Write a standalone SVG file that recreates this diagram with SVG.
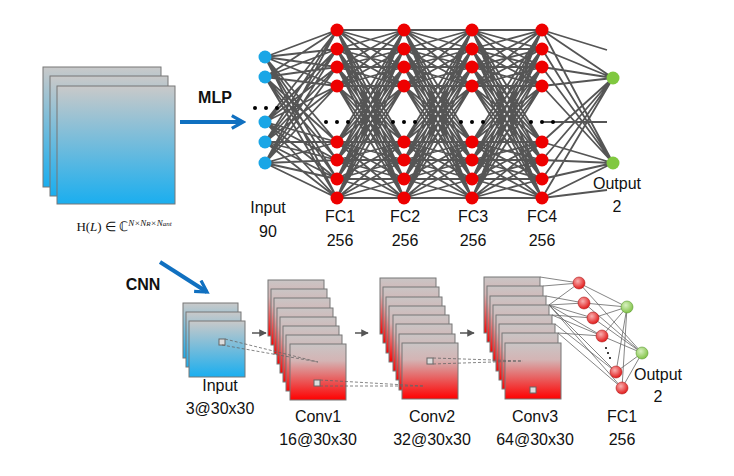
<svg xmlns="http://www.w3.org/2000/svg" width="734" height="476" viewBox="0 0 734 476">
<defs>
<linearGradient id="gb" x1="0" y1="0" x2="0" y2="1"><stop offset="0" stop-color="#c9c9c9"/><stop offset="1" stop-color="#1aaeef"/></linearGradient>
<linearGradient id="gr" x1="0" y1="0" x2="0" y2="1"><stop offset="0" stop-color="#c9c5c5"/><stop offset="0.3" stop-color="#d4b4b4"/><stop offset="1" stop-color="#ff0000"/></linearGradient>
<radialGradient id="rr" cx="0.4" cy="0.35" r="0.7"><stop offset="0" stop-color="#f8b0b0"/><stop offset="1" stop-color="#e01010"/></radialGradient>
<radialGradient id="rg" cx="0.4" cy="0.35" r="0.7"><stop offset="0" stop-color="#d8f0c0"/><stop offset="1" stop-color="#7cc040"/></radialGradient>
<marker id="ab" viewBox="0 0 10 10" refX="8" refY="5" markerWidth="4" markerHeight="4" orient="auto"><path d="M1,1 L8,5 L1,9" fill="none" stroke="#1070c0" stroke-width="2"/></marker>
<marker id="ag" viewBox="0 0 10 10" refX="9" refY="5" markerWidth="5" markerHeight="5" orient="auto"><path d="M0,0 L10,5 L0,10 z" fill="#555"/></marker>
<path id="h1" vector-effect="non-scaling-stroke" d="M0,30L1,30M0,30L1,49M0,30L1,67M0,30L1,86M0,30L1,142M0,30L1,160M0,30L1,179M0,30L1,198
M0,49L1,30M0,49L1,49M0,49L1,67M0,49L1,86M0,49L1,142M0,49L1,160M0,49L1,179M0,49L1,198
M0,67L1,30M0,67L1,49M0,67L1,67M0,67L1,86M0,67L1,142M0,67L1,160M0,67L1,179M0,67L1,198
M0,86L1,30M0,86L1,49M0,86L1,67M0,86L1,86M0,86L1,142M0,86L1,160M0,86L1,179M0,86L1,198
M0,142L1,30M0,142L1,49M0,142L1,67M0,142L1,86M0,142L1,142M0,142L1,160M0,142L1,179M0,142L1,198
M0,160L1,30M0,160L1,49M0,160L1,67M0,160L1,86M0,160L1,142M0,160L1,160M0,160L1,179M0,160L1,198
M0,179L1,30M0,179L1,49M0,179L1,67M0,179L1,86M0,179L1,142M0,179L1,160M0,179L1,179M0,179L1,198
M0,198L1,30M0,198L1,49M0,198L1,67M0,198L1,86M0,198L1,142M0,198L1,160M0,198L1,179M0,198L1,198"/>
</defs>
<style>
text{font-family:"Liberation Sans",Arial,sans-serif;font-size:16px;fill:#111;text-anchor:middle}
.b{font-weight:bold}
.sb{fill:url(#gb);stroke:#777;stroke-width:1}
.sr{fill:url(#gr);stroke:#777;stroke-width:1}
.t{stroke:#666;stroke-width:0.8}
.d{stroke:#666;stroke-width:0.8;stroke-dasharray:3,2;fill:none}
.nb{fill:#1aa6e6}.nr{fill:#ee0000}.ng{fill:#80c840}
.cr{fill:url(#rr);stroke:#b02020;stroke-width:0.6}
.cg{fill:url(#rg);stroke:#5a9a30;stroke-width:0.6}
.sq{fill:#ddd;stroke:#666;stroke-width:1}
</style>
<rect width="734" height="476" fill="#fff"/>
<g id="input-tensor">
<rect class="sb" x="43" y="67" width="118" height="120"/>
<rect class="sb" x="50" y="76" width="118" height="120"/>
<rect class="sb" x="57" y="86" width="118" height="118"/>
<text x="124" y="231" style="font-family:'Liberation Serif',serif;font-size:13px">H(<tspan font-style="italic">L</tspan>) ∈ ℂ<tspan dy="-5" font-size="9" font-style="italic">N×N</tspan><tspan font-size="7" font-style="italic">R</tspan><tspan font-size="9" font-style="italic">×N</tspan><tspan font-size="7" font-style="italic">ant</tspan></text>
</g>
<g id="connectors">
<line x1="180" y1="122" x2="243" y2="122" stroke="#1070c0" stroke-width="4" marker-end="url(#ab)"/>
<line x1="160" y1="262" x2="207" y2="292" stroke="#1070c0" stroke-width="4" marker-end="url(#ab)"/>
<line x1="252" y1="333" x2="266" y2="333" stroke="#555" stroke-width="1.5" marker-end="url(#ag)"/>
<line x1="355" y1="333" x2="368" y2="333" stroke="#555" stroke-width="1.5" marker-end="url(#ag)"/>
<line x1="460" y1="333" x2="474" y2="333" stroke="#555" stroke-width="1.5" marker-end="url(#ag)"/>
</g>
<g id="mlp-lines" stroke="#555" stroke-width="1.8" fill="none">
<path d="M265,57L337,30M265,57L337,49M265,57L337,67M265,57L337,86M265,57L337,142M265,57L337,160M265,57L337,179M265,57L337,198
M265,77L337,30M265,77L337,49M265,77L337,67M265,77L337,86M265,77L337,142M265,77L337,160M265,77L337,179M265,77L337,198
M265,122L337,30M265,122L337,49M265,122L337,67M265,122L337,86M265,122L337,142M265,122L337,160M265,122L337,179M265,122L337,198
M265,142L337,30M265,142L337,49M265,142L337,67M265,142L337,86M265,142L337,142M265,142L337,160M265,142L337,179M265,142L337,198
M265,163L337,30M265,163L337,49M265,163L337,67M265,163L337,86M265,163L337,142M265,163L337,160M265,163L337,179M265,163L337,198"/>
<use href="#h1" transform="translate(337,0) scale(67,1)"/>
<use href="#h1" transform="translate(404,0) scale(68,1)"/>
<use href="#h1" transform="translate(472,0) scale(70,1)"/>
<path d="M542,30L613,78M542,49L613,78M542,67L613,78M542,86L613,78M542,142L613,78M542,160L613,78M542,179L613,78M542,198L613,78
M542,30L613,163M542,49L613,163M542,67L613,163M542,86L613,163M542,142L613,163M542,160L613,163M542,179L613,163M542,198L613,163
M542,30L607,50M542,198L607,190M542,122L607,122"/>
</g>
<g id="mlp-input" class="nb">
<circle cx="265" cy="57" r="6.5"/><circle cx="265" cy="77" r="6.5"/><circle cx="265" cy="122" r="6.5"/><circle cx="265" cy="142" r="6.5"/><circle cx="265" cy="163" r="6.5"/>
<g fill="#000"><circle cx="255" cy="108" r="2"/><circle cx="266" cy="108" r="2"/><circle cx="277" cy="108" r="2"/></g>
<text x="268" y="213">Input</text><text x="268" y="237">90</text>
</g>
<g id="fc-layers" class="nr">
<g id="fcA">
<circle cx="337" cy="30" r="6.5"/><circle cx="337" cy="49" r="6.5"/><circle cx="337" cy="67" r="6.5"/><circle cx="337" cy="86" r="6.5"/>
<circle cx="337" cy="142" r="6.5"/><circle cx="337" cy="160" r="6.5"/><circle cx="337" cy="179" r="6.5"/><circle cx="337" cy="198" r="6.5"/>
<g fill="#000"><circle cx="326" cy="122" r="2"/><circle cx="337" cy="122" r="2"/><circle cx="348" cy="122" r="2"/></g>
</g>
<use href="#fcA" x="67"/><use href="#fcA" x="135"/><use href="#fcA" x="205"/>
</g>
<g id="mlp-labels">
<text x="340" y="222">FC1</text><text x="340" y="246">256</text>
<text x="405" y="222">FC2</text><text x="405" y="246">256</text>
<text x="473" y="222">FC3</text><text x="473" y="246">256</text>
<text x="542" y="222">FC4</text><text x="542" y="246">256</text>
</g>
<g id="mlp-output">
<circle class="ng" cx="613" cy="78" r="6.5"/><circle class="ng" cx="613" cy="163" r="6.5"/>
<text x="617" y="189">Output</text><text x="617" y="212">2</text>
</g>
<text class="b" x="215" y="103">MLP</text>
<text class="b" x="143" y="290">CNN</text>
<g id="cnn-input">
<rect class="sb" x="183" y="303" width="55" height="55"/>
<rect class="sb" x="186" y="312" width="55" height="55"/>
<rect class="sb" x="189" y="321" width="56" height="56"/>
<rect class="sq" x="219" y="339" width="6" height="6"/>
<text x="220" y="391">Input</text><text x="220" y="414">3@30x30</text>
</g>
<g id="conv1">
<rect class="sr" x="268" y="280" width="56" height="56"/><rect class="sr" x="271" y="289" width="56" height="56"/>
<rect class="sr" x="274" y="298" width="56" height="56"/><rect class="sr" x="277" y="308" width="56" height="56"/>
<rect class="sr" x="280" y="317" width="56" height="56"/><rect class="sr" x="283" y="326" width="56" height="56"/>
<rect class="sr" x="286" y="335" width="56" height="56"/><rect class="sr" x="290" y="344" width="56" height="56"/>
<rect class="sq" x="314" y="380" width="6" height="6"/>
<text x="318" y="422">Conv1</text><text x="318" y="445">16@30x30</text>
</g>
<g id="conv2">
<rect class="sr" x="380" y="278" width="56" height="56"/><rect class="sr" x="383" y="287" width="56" height="56"/>
<rect class="sr" x="386" y="297" width="56" height="56"/><rect class="sr" x="389" y="306" width="56" height="56"/>
<rect class="sr" x="393" y="315" width="56" height="56"/><rect class="sr" x="396" y="324" width="56" height="56"/>
<rect class="sr" x="399" y="334" width="56" height="56"/><rect class="sr" x="402" y="343" width="56" height="56"/>
<rect class="sq" x="427" y="358" width="6" height="6"/>
<text x="432" y="422">Conv2</text><text x="432" y="445">32@30x30</text>
</g>
<g id="conv3">
<rect class="sr" x="484" y="277" width="56" height="56"/><rect class="sr" x="487" y="286" width="56" height="56"/>
<rect class="sr" x="490" y="296" width="56" height="56"/><rect class="sr" x="493" y="305" width="56" height="56"/>
<rect class="sr" x="496" y="315" width="56" height="56"/><rect class="sr" x="499" y="324" width="56" height="56"/>
<rect class="sr" x="502" y="333" width="56" height="56"/><rect class="sr" x="505" y="343" width="56" height="56"/>
<rect class="sq" x="530" y="387" width="6" height="6"/>
<text x="535" y="422">Conv3</text><text x="535" y="445">64@30x30</text>
</g>
<g id="cnn-connectors">
<path class="d" d="M225,339L318,362M222,345L318,362M320,380L423,386M320,386L423,386M433,358L523,361M433,364L523,361"/>
<path class="t" fill="none" d="M540,277L579,283M543,286L579,283M546,296L584,303M549,305L579,283M549,305L584,303M549,305L593,318M549,305L602,336M549,305L616,372M549,305L622,388M552,315L593,318M552,315L602,336M555,324L616,372M558,333L622,388M558,333L602,336
M579,283L627,307M579,283L642,353M584,303L627,307M584,303L642,353M593,318L627,307M593,318L642,353M602,336L627,307M602,336L642,353M616,372L627,307M616,372L642,353M622,388L627,307M622,388L642,353"/>
</g>
<g id="cnn-fc">
<circle class="cr" cx="579" cy="283" r="6"/><circle class="cr" cx="584" cy="303" r="6"/><circle class="cr" cx="593" cy="318" r="6"/>
<circle class="cr" cx="602" cy="336" r="6"/><circle class="cr" cx="616" cy="372" r="6"/><circle class="cr" cx="622" cy="388" r="6"/>
<g fill="#000"><circle cx="606" cy="348" r="1"/><circle cx="608" cy="353" r="1"/><circle cx="610" cy="358" r="1"/></g>
<text x="622" y="422">FC1</text><text x="622" y="445">256</text>
</g>
<g id="cnn-output">
<circle class="cg" cx="627" cy="307" r="6"/><circle class="cg" cx="642" cy="353" r="6"/>
<text x="658" y="380">Output</text><text x="658" y="402">2</text>
</g>
</svg>
